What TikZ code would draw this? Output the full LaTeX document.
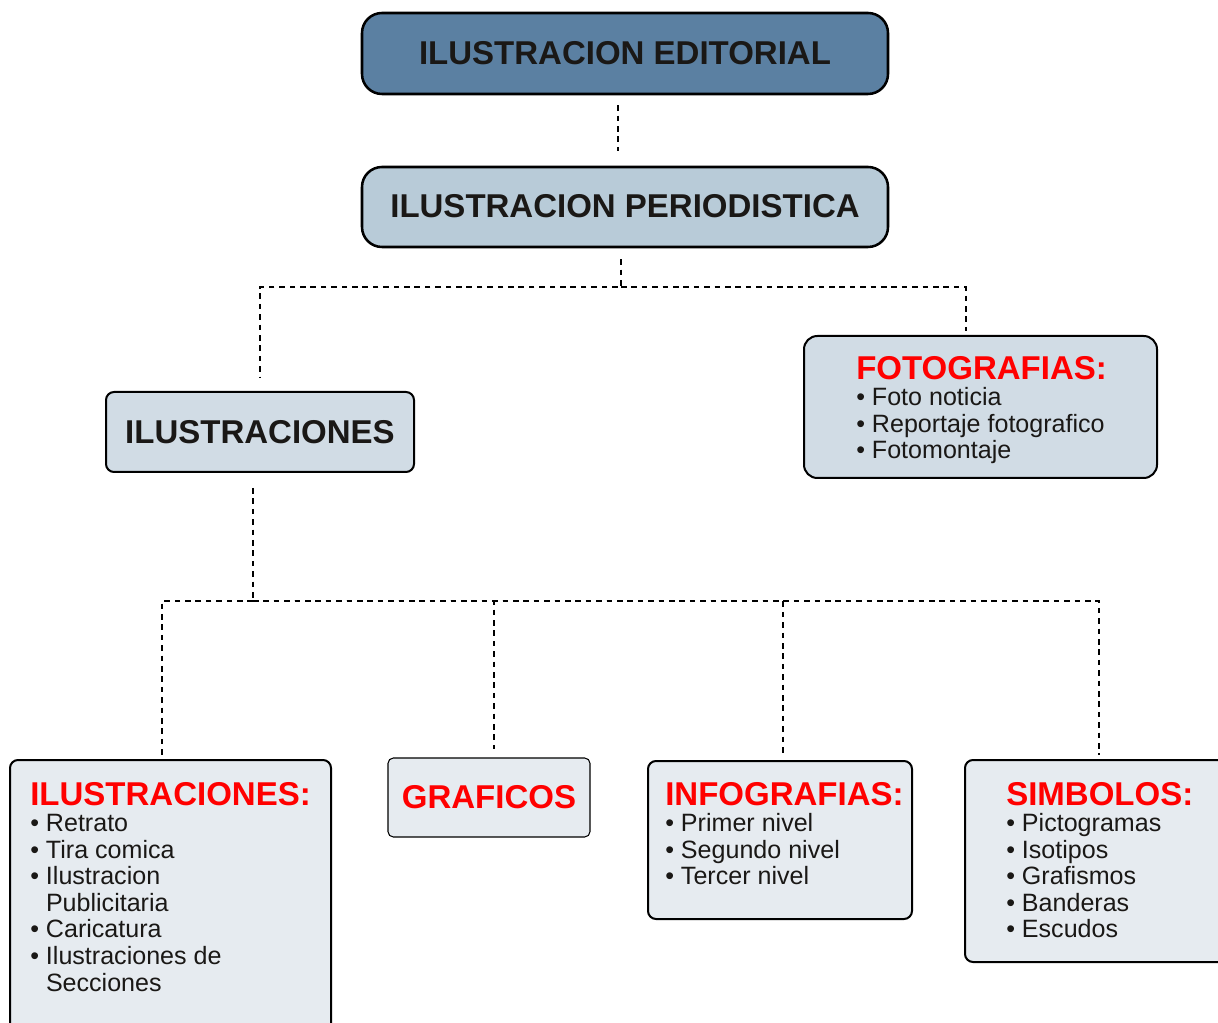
\documentclass[tikz,border=0pt]{standalone}
\usepackage{fontspec}
\setmainfont{Liberation Sans}
\usetikzlibrary{positioning,calc}
\definecolor{editblue}{RGB}{91,128,162}
\definecolor{periblue}{RGB}{184,203,216}
\definecolor{ilusblue}{RGB}{209,220,229}
\definecolor{cajaclara}{RGB}{230,235,240}
\definecolor{tinta}{RGB}{26,24,22}
\newcommand{\titulo}[1]{{\fontsize{24.75}{19.9}\selectfont\bfseries\color{red}#1}}

\begin{document}
\begin{tikzpicture}[x=0.75pt, y=-0.75pt,
  cabeza/.style={draw, line width=1.9pt, rounded corners=15pt, inner sep=0pt,
    font=\bfseries\fontsize{24.75}{28}\selectfont, text=tinta},
  caja/.style={draw, line width=1.5pt, rounded corners=6pt, inner sep=0pt},
  lista/.style={anchor=north west, inner sep=0pt, align=left, text=tinta,
    font=\fontsize{18.8}{19.9}\selectfont},
  link/.style={dash pattern=on 4.2pt off 3.6pt, line width=2.1pt}
]
  \useasboundingbox (0,0) rectangle (1218,1023);

  % cabeceras
  \node[cabeza, fill=editblue, minimum width=394.5pt, minimum height=60.75pt]
    (edit) at (625,53.5) {\raisebox{1.5pt}{ILUSTRACION EDITORIAL}};
  \node[cabeza, fill=periblue, minimum width=394.5pt, minimum height=60pt]
    (perio) at (625,207) {\raisebox{1.5pt}{ILUSTRACION PERIODISTICA}};
  \node[caja, fill=ilusblue, minimum width=231pt, minimum height=60pt,
    font=\bfseries\fontsize{24.75}{28}\selectfont, text=tinta]
    (ilus) at (260,432) {ILUSTRACIONES};
  \node[caja, fill=ilusblue, rounded corners=10pt, minimum width=264.75pt,
    minimum height=106.5pt] (fotos) at (980.5,407) {};
  \node[lista] (fotostxt) at (856,356)
    {\titulo{FOTOGRAFIAS:}\\• Foto noticia\\• Reportaje fotografico\\• Fotomontaje};

  % cajas de abajo
  \node[caja, fill=cajaclara, minimum width=240.75pt, minimum height=206.25pt]
    (ilus2) at (170.5,897.5) {};
  \node[lista] (ilus2txt) at (30,782)
    {\titulo{ILUSTRACIONES:}\\• Retrato\\• Tira comica\\• Ilustracion\\
     \phantom{• }Publicitaria\\• Caricatura\\• Ilustraciones de\\
     \phantom{• }Secciones};
  \node[caja, fill=cajaclara, line width=0.8pt, rounded corners=4pt,
    minimum width=151.5pt, minimum height=59.25pt,
    font=\bfseries\fontsize{24.75}{28}\selectfont, text=red]
    (graf) at (489,797.5) {\raisebox{-2pt}{GRAFICOS}};
  \node[caja, fill=cajaclara, minimum width=198pt, minimum height=118.5pt]
    (info) at (780,840) {};
  \node[lista] (infotxt) at (665,782)
    {\titulo{INFOGRAFIAS:}\\• Primer nivel\\• Segundo nivel\\• Tercer nivel};
  \node[caja, fill=cajaclara, minimum width=201pt, minimum height=151.5pt]
    (simb) at (1099,861) {};
  \node[lista] (simbtxt) at (1006,782)
    {\titulo{SIMBOLOS:}\\• Pictogramas\\• Isotipos\\• Grafismos\\• Banderas\\• Escudos};

  % conectores
  \coordinate (split1) at (621,287);
  \coordinate (split2) at (253,601);

  \draw[link, shorten <=7.5pt, shorten >=11.25pt]
    ([xshift=-5.25pt]edit.south) -- ([xshift=-5.25pt]perio.north);
  \draw[link, shorten <=8.25pt, shorten >=10.5pt]
    (perio.south -| split1) -- (split1) -| (ilus.north);
  \draw[link, shorten >=3pt] (split1) -| ([xshift=-10.9pt]fotos.north);

  \draw[link, shorten <=11.25pt] (ilus.south -| split2) -- (split2);
  \foreach \n/\dx/\gap in {ilus2/-6.4/2.25, graf/3.75/6, info/2.25/3, simb/0/3}
    \draw[link, shorten >=\gap pt] (split2) -| ([xshift=\dx pt]\n.north);
\end{tikzpicture}
\end{document}
